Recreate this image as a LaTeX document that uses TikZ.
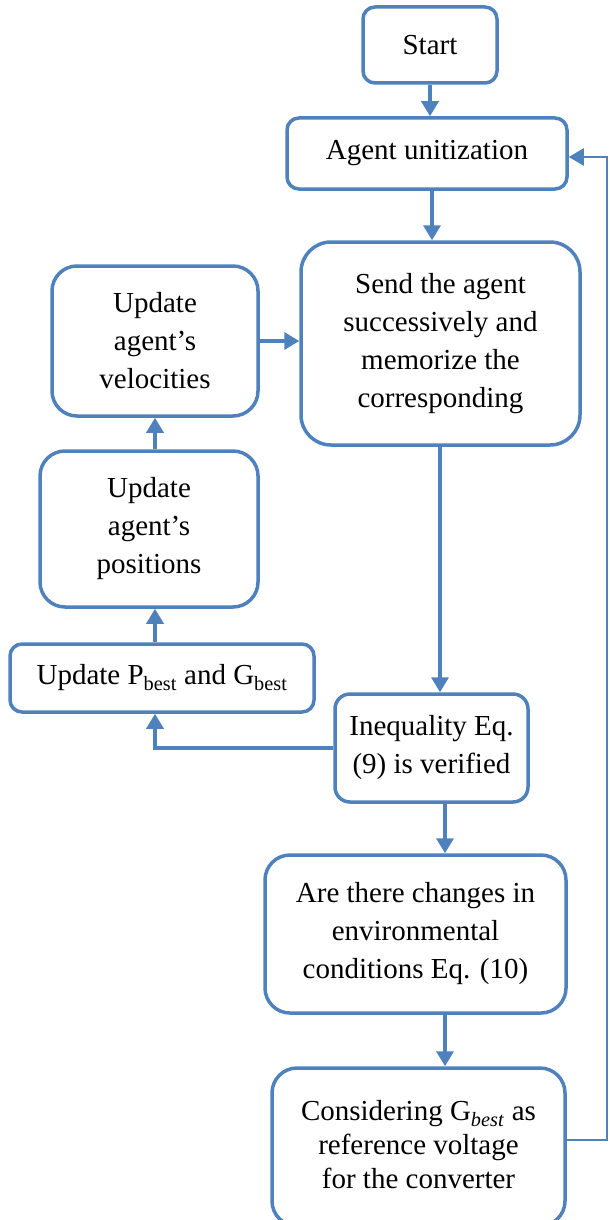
\documentclass[tikz,border=0pt]{standalone}
\usepackage{fontspec}
\setmainfont{Liberation Serif}
\usetikzlibrary{arrows.meta}
\definecolor{ofblue}{RGB}{79,129,189}
\tikzset{
  box/.style={draw=ofblue, line width=3.5pt, fill=white, align=center, inner sep=0pt,
    font=\fontsize{29}{38}\selectfont, text=black},
  arr/.style={draw=ofblue, line width=3.5pt, -{Triangle[width=17pt,length=15pt]}},
  fb/.style={draw=ofblue, line width=2.2pt, -{Triangle[width=17pt,length=15pt]}}
}
\begin{document}
\begin{tikzpicture}[x=1pt,y=-1pt]
\useasboundingbox (0,0) rectangle (610,1220);
\begin{scope}
\clip (0,0) rectangle (610,1220);
\node[box, rounded corners=12pt, minimum width=134pt, minimum height=76pt] (start) at (430,45) {Start};
\node[box, rounded corners=12pt, minimum width=280pt, minimum height=71pt] (agent) at (427,153.5) {Agent unitization};
\node[box, rounded corners=30pt, minimum width=279pt, minimum height=203pt] (send) at (440.5,343.5) {Send the agent\\successively and\\memorize the\\corresponding};
\node[box, rounded corners=25pt, minimum width=206pt, minimum height=150pt] (vel) at (155,341) {Update\\agent’s\\velocities};
\node[box, rounded corners=25pt, minimum width=218pt, minimum height=156pt] (pos) at (149,529) {Update\\agent’s\\positions};
\node[box, rounded corners=12pt, minimum width=304pt, minimum height=68pt] (pbest) at (162,678) {Update P\textsubscript{best} and G\textsubscript{best}};
\node[box, rounded corners=15pt, minimum width=193pt, minimum height=108pt] (ineq) at (431.5,748) {Inequality Eq.\\(9) is verified};
\node[box, rounded corners=25pt, minimum width=301pt, minimum height=158pt] (are) at (415.5,934) {Are there changes in\\environmental\\conditions Eq. (10)};
\node[box, rounded corners=25pt, minimum width=293pt, minimum height=158pt] (cons) at (418.5,1147) {\raisebox{4pt}{\begin{tabular}{@{}c@{}}Considering G\textsubscript{\textit{best}} as\\[-4pt]reference voltage\\[-4pt]for the converter\end{tabular}}};

\coordinate (fbR1) at (607,1140);
\coordinate (fbR2) at (607,157);

\draw[arr] (start.south -| 430,0) -- (agent.north -| 430,0);
\draw[arr] (agent.south -| 432,0) -- (send.north -| 432,0);
\draw[arr] (send.south -| 440,0) -- (ineq.north -| 440,0);
\draw[arr] (ineq.west) -| (pbest.south -| 155,0);
\draw[arr] (pbest.north -| 155,0) -- (pos.south -| 155,0);
\draw[arr] (pos.north -| 155,0) -- (vel.south -| 155,0);
\draw[arr] (vel.east) -- (send.west |- vel.east);
\draw[arr] (ineq.south -| 445,0) -- (are.north -| 445,0);
\draw[arr] (are.south -| 445,0) -- (cons.north -| 445,0);
\draw[fb] (cons.east |- fbR1) -- (fbR1) -- (fbR2) -- (agent.east |- fbR2);
\end{scope}
\end{tikzpicture}
\end{document}
